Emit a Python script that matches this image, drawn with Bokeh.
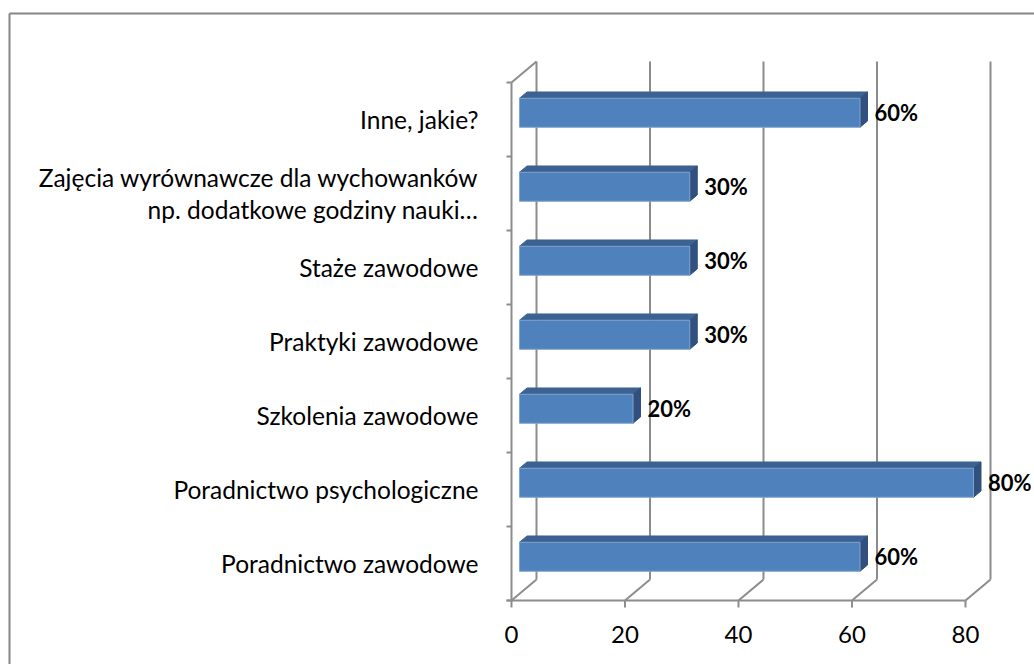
from bokeh.plotting import figure
from bokeh.models import Range1d
from bokeh.embed import file_html
from bokeh.resources import INLINE
from bokeh.core.properties import value

# ---------------- data ----------------
categories = [
    "Poradnictwo zawodowe",
    "Poradnictwo psychologiczne",
    "Szkolenia zawodowe",
    "Praktyki zawodowe",
    "Staże zawodowe",
    "Zajęcia wyrównawcze dla wychowanków\nnp. dodatkowe godziny nauki…",
    "Inne, jakie?",
]
values = [60, 80, 20, 30, 30, 30, 60]
x_ticks = [0, 20, 40, 60, 80]
x_tick_labels = ["0", "20", "40", "60", "80"]
bar_labels = [f"{v}%" for v in values]

# ---------------- layout / style ----------------
W, H = 1034, 664
PXU = 5.675                        # px per value unit
PXC = 74.0                         # px per category
X0 = 511                           # canvas px of value 0 (front plane)
Y0 = 64                            # canvas px (from bottom) of category floor
BORDER_L, BORDER_T = 9, 13         # outer chart border (canvas px)
DX = 25 / PXU                      # depth offset (data units)
DY = 21 / PXC
D_FRONT, D_BACK = 0.32, 0.62       # bar depth position
BAR_H = 29 / PXC
GRID = "#8C8C8C"
FONT = value("Lato")

xr = Range1d(-X0 / PXU, (W - X0) / PXU)
yr = Range1d(-Y0 / PXC, (H - Y0) / PXC)
p = figure(width=W, height=H, output_backend="svg", toolbar_location=None,
           x_axis_location=None, y_axis_location=None,
           min_border_left=0, min_border_top=0, min_border_right=0, min_border_bottom=0,
           x_range=xr, y_range=yr)
p.grid.visible = False
p.outline_line_color = None
p.background_fill_color = "white"
p.border_fill_color = "white"

# outer chart border (top and left; right/bottom lie outside the picture)
bx = xr.start + BORDER_L / PXU
by = yr.end - BORDER_T / PXC
p.segment(x0=[bx, bx], y0=[yr.start - 1, by], x1=[bx, xr.end + 1], y1=[by, by],
          line_color="#868686", line_width=2)

n = len(categories)
vmax = x_ticks[-1]

# back-plane gridlines
p.segment(x0=[v + DX for v in x_ticks], y0=[DY] * len(x_ticks),
          x1=[v + DX for v in x_ticks], y1=[n + DY] * len(x_ticks),
          line_color=GRID, line_width=2)
# floor diagonals
p.segment(x0=x_ticks, y0=[0] * len(x_ticks),
          x1=[v + DX for v in x_ticks], y1=[DY] * len(x_ticks),
          line_color=GRID, line_width=2)
# floor front line
p.segment(x0=[-5 / PXU], y0=[0], x1=[vmax], y1=[0], line_color=GRID, line_width=2)
# floor ticks
p.segment(x0=x_ticks, y0=[0] * len(x_ticks), x1=x_ticks, y1=[-7 / PXC] * len(x_ticks),
          line_color=GRID, line_width=2)
# left wall front edge and top diagonal
p.segment(x0=[0, 0], y0=[0, n], x1=[0, DX], y1=[n, n + DY], line_color=GRID, line_width=2)
# left wall ticks
p.segment(x0=[0] * (n + 1), y0=list(range(n + 1)), x1=[-5 / PXU] * (n + 1), y1=list(range(n + 1)),
          line_color=GRID, line_width=2)

# bars
fl = [D_FRONT * DX] * n
fr = [v + D_FRONT * DX for v in values]
fb = [i + 0.5 - BAR_H / 2 + D_FRONT * DY for i in range(n)]
ft = [i + 0.5 + BAR_H / 2 + D_FRONT * DY for i in range(n)]
ddx = (D_BACK - D_FRONT) * DX
ddy = (D_BACK - D_FRONT) * DY

top_xs = [[fl[i], fr[i], fr[i] + ddx, fl[i] + ddx] for i in range(n)]
top_ys = [[ft[i], ft[i], ft[i] + ddy, ft[i] + ddy] for i in range(n)]
side_xs = [[fr[i], fr[i], fr[i] + ddx, fr[i] + ddx] for i in range(n)]
side_ys = [[fb[i], ft[i], ft[i] + ddy, fb[i] + ddy] for i in range(n)]

p.patches(top_xs, top_ys, fill_color="#3C6292", line_color="#3C6292", line_width=1)
p.patches(side_xs, side_ys, fill_color="#32507D", line_color="#32507D", line_width=1)
p.quad(left=fl, right=fr, bottom=fb, top=ft, fill_color="#4F81BD",
       line_color="#7FA3D0", line_width=1)

# value labels
p.text(x=[v + D_BACK * DX + 7 / PXU for v in values],
       y=[i + 0.5 + D_FRONT * DY for i in range(n)],
       text=bar_labels, text_font=FONT, text_font_size="22px", text_font_style="bold",
       text_align="left", text_baseline="middle", text_color="#000000")

# category labels
p.text(x=[-33 / PXU] * n, y=[i + 0.5 for i in range(n)], text=categories,
       text_font=FONT, text_font_size="24.5px", text_align="right", text_baseline="middle",
       text_color="#000000", text_line_height=1.12)

# x tick labels
p.text(x=x_ticks, y=[-34 / PXC] * len(x_ticks), text=x_tick_labels,
       text_font=FONT, text_font_size="24px", text_align="center", text_baseline="middle",
       text_color="#000000")

open("out.html", "w").write(file_html(p, INLINE))
